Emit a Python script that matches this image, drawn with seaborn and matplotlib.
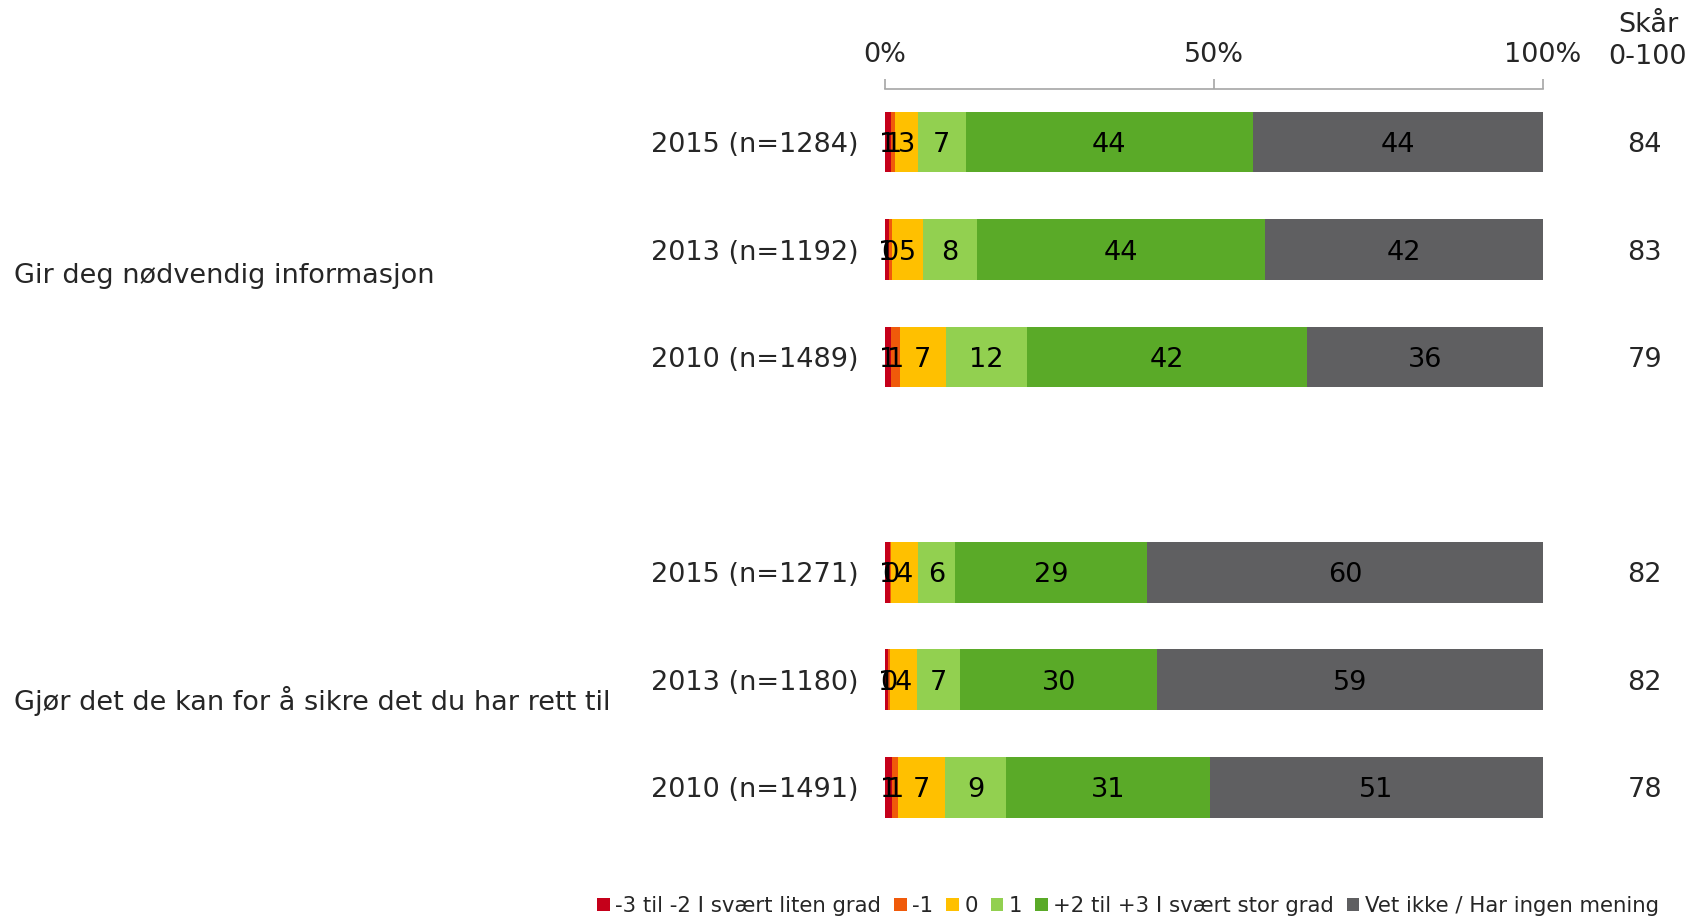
import matplotlib
matplotlib.use("Agg")
import matplotlib.pyplot as plt
import matplotlib.transforms as mtransforms
from matplotlib.patches import Patch
import numpy as np
import pandas as pd
import seaborn as sns

# --- data ---
groups = ["Gir deg nødvendig informasjon", "Gjør det de kan for å sikre det du har rett til"]
rows_g1 = ["2015 (n=1284)", "2013 (n=1192)", "2010 (n=1489)"]
rows_g2 = ["2015 (n=1271)", "2013 (n=1180)", "2010 (n=1491)"]
categories = ["-3 til -2 I svært liten grad", "-1", "0", "1",
              "+2 til +3 I svært stor grad", "Vet ikke / Har ingen mening"]
very_low = [1.0, 0.65, 1.0, 0.8, 0.55, 1.1]
minus_one = [0.6, 0.4, 1.3, 0.15, 0.25, 1.0]
neutral = [3.4, 4.8, 7.0, 4.05, 4.1, 7.1]
plus_one = [7.3, 8.2, 12.4, 5.7, 6.6, 9.2]
very_high = [43.7, 43.8, 42.4, 29.2, 29.9, 31.0]
dont_know = [44.0, 42.2, 35.9, 60.1, 58.6, 50.6]
scores = [84, 83, 79, 82, 82, 78]

colors = ["#C5001A", "#F05A0A", "#FFC000", "#92D050", "#5AAA28", "#5F5F61"]

rows = rows_g1 + rows_g2
order = rows_g1 + [" "] + rows_g2
vals = np.array([very_low, minus_one, neutral, plus_one, very_high, dont_know]).T
cum = np.cumsum(vals, axis=1)

sns.set_style("white")
plt.rcParams["font.family"] = ["DejaVu Sans"]
FS = 19.5

fig = plt.figure(figsize=(17, 9.17), dpi=100)
ax = fig.add_axes([0.5204, 0.0829, 0.3871, 0.820])

# stacked bars: draw cumulative totals from the last category backwards
for i in reversed(range(len(categories))):
    df = pd.DataFrame({"row": rows, "value": cum[:, i]})
    sns.barplot(data=df, x="value", y="row", order=order, orient="h",
                color=colors[i], saturation=1, width=0.565, ax=ax,
                edgecolor="none", linewidth=0)

# segment labels
for r, name in enumerate(rows):
    ypos = order.index(name)
    left = 0
    for i in range(len(categories)):
        v = vals[r, i]
        ax.text(left + v / 2, ypos, str(int(np.floor(v + 0.5))), ha="center",
                va="center_baseline", fontsize=FS, color="black")
        left += v
    ax.text(115.5, ypos, str(scores[r]), ha="center", va="center_baseline",
            fontsize=FS, clip_on=False)

ax.set_xlim(0, 100)
ax.set_ylim(6.5, -0.493)
ax.set_xlabel("")
ax.set_ylabel("")
ax.xaxis.tick_top()
ax.set_xticks([0, 50, 100])
ax.set_xticklabels(["0%", "50%", "100%"], fontsize=FS)
ax.tick_params(axis="x", direction="out", length=7, width=1.2, color="#A6A6A6",
               pad=8)
ax.tick_params(axis="y", length=0, pad=19, labelsize=FS)
for s in ["bottom", "left", "right"]:
    ax.spines[s].set_visible(False)
ax.spines["top"].set_color("#A6A6A6")
ax.spines["top"].set_linewidth(1.2)

# group labels
trans = mtransforms.blended_transform_factory(fig.transFigure, ax.transData)
ax.text(14 / 1700, 1.25, groups[0], transform=trans, ha="left", va="center",
        fontsize=FS)
ax.text(14 / 1700, 5.2, groups[1], transform=trans, ha="left", va="center",
        fontsize=FS)

fig.text(1648 / 1700, 1 - 41 / 917, "Skår\n0-100", ha="center", va="center",
         fontsize=FS, linespacing=1.25)

handles = [Patch(facecolor=c, edgecolor="none") for c in colors]
fig.legend(handles, categories, loc="center", bbox_to_anchor=(1128 / 1700, 1 - 906 / 917),
           ncol=6, frameon=False, fontsize=15.35, handlelength=0.6, handleheight=0.6,
           handletextpad=0.25, columnspacing=0.6, borderaxespad=0)

fig.savefig("out.png", dpi=100)
